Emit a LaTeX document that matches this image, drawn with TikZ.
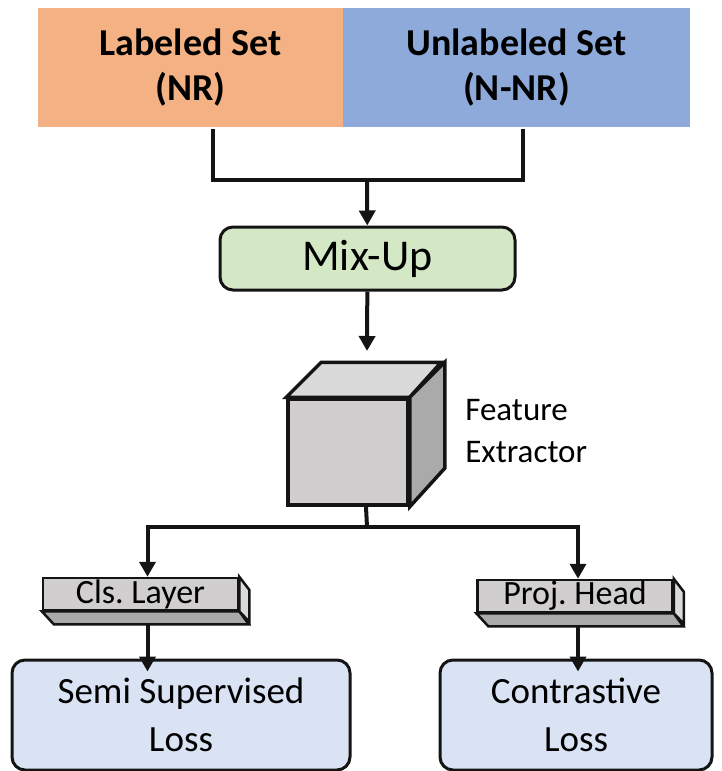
\documentclass[tikz,border=0pt]{standalone}
\usepackage{fontspec}
\setmainfont{Carlito}
\usepackage{xcolor}
\usetikzlibrary{arrows.meta, calc, positioning}
\definecolor{naranja}{RGB}{244,177,131}
\definecolor{azul}{RGB}{142,170,219}
\definecolor{verde}{RGB}{212,232,198}
\definecolor{celeste}{RGB}{218,227,243}
\definecolor{grisfrente}{RGB}{208,206,206}
\definecolor{gristapa}{RGB}{218,218,218}
\definecolor{grislado}{RGB}{170,170,170}
\definecolor{tinta}{RGB}{20,20,20}

\begin{document}
\begin{tikzpicture}[x=1pt, y=-1pt, >={Triangle[length=15pt,width=16pt]}, line width=4pt, draw=tinta,
  conjunto/.style={minimum width=#1, minimum height=119pt, inner sep=0pt, align=center,
    font=\fontsize{38}{45}\selectfont\bfseries},
  caja/.style={draw, rounded corners=13pt, line width=3pt, minimum width=#1, align=center, inner sep=0pt},
  losa/.style={draw, fill=grisfrente, line width=2.5pt, minimum width=195pt, minimum height=32pt,
    inner sep=0pt, font=\fontsize{34}{34}\selectfont}]
  \useasboundingbox (0,0) rectangle (721,771);
  % conjuntos de datos
  \node[conjunto=305pt, fill=naranja] (lab) at (190.5,67.5) {Labeled Set\\(NR)};
  \node[conjunto=347pt, fill=azul] (unl) at (516.5,67.5) {Unlabeled Set\\(N-NR)};
  \node[caja=295pt, fill=verde, minimum height=63pt, font=\fontsize{44}{44}\selectfont] (mix) at (367.5,258.5) {Mix-Up};
  \coordinate (join) at (367,180);
  \draw ([xshift=22pt]lab.south) |- (join) -| ([xshift=6pt]unl.south);
  \draw[->] (join) -- (mix);
  % extractor (cubo)
  \node[draw, fill=grisfrente, line width=3.5pt, minimum width=120pt, minimum height=106pt, inner sep=0pt] (fe) at (348,452) {};
  \draw[line width=3.5pt, fill=gristapa] (fe.north west) -- ++(35,-35) -- ++(120,0) -- (fe.north east) -- cycle;
  \draw[line width=3.5pt, fill=grislado] (fe.north east) -- ++(35,-35) -- ++(0,106) -- (fe.south east) -- cycle;
  \node[anchor=west, align=left, font=\fontsize{33}{42}\selectfont] (fx) at (460,431) {Feature\\Extractor};
  \coordinate (fetop) at (367,351);
  \draw[->] (mix) -- (fetop);
  % capas
  \node[losa] (cls) at (140.5,594) {Cls.\ Layer};
  \node[losa] (proj) at (575,596) {Proj.\ Head};
  \foreach \n in {cls, proj} {
    \draw[line width=2.5pt, fill=grislado] (\n.south west) -- ++(12,13) -- ++(195,0) -- (\n.south east) -- cycle;
    \draw[line width=2.5pt, fill=gristapa] (\n.north east) -- ++(10,13) -- ++(0,32) -- (\n.south east) -- cycle;
  }
  \coordinate (split) at (367,527);
  \draw ([xshift=18pt]fe.south) -- (split);
  \draw[->] (split) -| ([xshift=7pt]cls.north);
  \draw[->] (split) -| ([xshift=3pt]proj.north);
  % perdidas
  \node[caja=338pt, fill=celeste, minimum height=110pt, font=\fontsize{37}{48}\selectfont] (semi) at (181,715) {Semi Supervised\\Loss};
  \node[caja=272pt, fill=celeste, minimum height=110pt, font=\fontsize{37}{48}\selectfont] (con) at (576,715) {Contrastive\\Loss};
  \draw[->] ([xshift=7pt,yshift=-13pt]cls.south) -- ([xshift=7pt,yshift=-13pt]cls.south |- semi.north);
  \draw[->] ([xshift=3pt,yshift=-13pt]proj.south) -- ([xshift=3pt,yshift=-13pt]proj.south |- con.north);
\end{tikzpicture}
\end{document}
